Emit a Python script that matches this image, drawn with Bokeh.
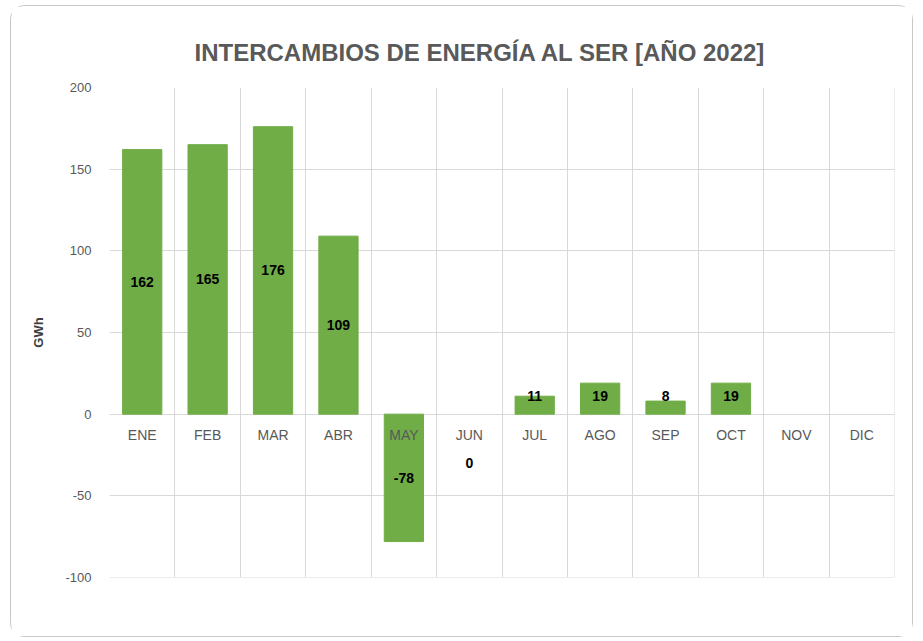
from bokeh.plotting import figure
from bokeh.models import FixedTicker, ColumnDataSource, Title, Span
from bokeh.embed import file_html
from bokeh.resources import INLINE
from bokeh.core.properties import value

months = ["ENE", "FEB", "MAR", "ABR", "MAY", "JUN", "JUL", "AGO", "SEP", "OCT", "NOV", "DIC"]
values = [162, 165, 176, 109, -78, 0, 11, 19, 8, 19, None, None]
y_ticks = [-100, -50, 0, 50, 100, 150, 200]

xs = [i + 0.5 for i in range(len(months))]
bx, bv = [], []
for x, v in zip(xs, values):
    if v:
        bx.append(x)
        bv.append(v)

lab_x, lab_y, lab_t = [], [], []
for x, v in zip(xs, values):
    if v is None:
        continue
    if v == 0:
        y = -30
    elif 0 < v < 25:
        y = 11
    else:
        y = v / 2
    lab_x.append(x)
    lab_y.append(y)
    lab_t.append(str(v))

p = figure(width=903, height=632, output_backend="svg", toolbar_location=None,
           x_range=(0, 12), y_range=(-100, 200),
           min_border_left=98, min_border_right=20, min_border_top=81, min_border_bottom=61)
p.styles = {"border": "1.5px solid #c8c8c8", "border-radius": "14px",
            "margin-left": "10px", "margin-top": "5px"}

p.title = Title(text="INTERCAMBIOS DE ENERGÍA AL SER [AÑO 2022]", align="left",
                text_font="Liberation Sans", text_font_size="24px",
                text_font_style="bold", text_color="#595959", offset=85, standoff=44)

p.vbar(x=bx, top=bv, bottom=0, width=0.6, color="#70AD47")

src = ColumnDataSource(dict(x=lab_x, y=lab_y, t=lab_t))
p.text(x="x", y="y", text="t", source=src, text_align="center", text_baseline="middle",
       text_font=value("Liberation Sans"), text_font_size="14px", text_font_style="bold",
       text_color="#000000")

p.outline_line_color = None

# x axis at zero
p.xaxis.fixed_location = 0
p.xaxis.ticker = FixedTicker(ticks=xs)
p.xaxis.major_label_overrides = {x: m for x, m in zip(xs, months)}
p.xaxis.axis_line_color = None
p.xaxis.major_tick_line_color = None
p.xaxis.minor_tick_line_color = None
p.xaxis.major_label_text_font = "Liberation Sans"
p.xaxis.major_label_text_font_size = "14px"
p.xaxis.major_label_text_color = "#595959"
p.xaxis.major_label_standoff = 7

p.yaxis.ticker = FixedTicker(ticks=y_ticks)
p.yaxis.major_label_overrides = {t: str(t) for t in y_ticks}
p.yaxis.axis_line_color = None
p.yaxis.major_tick_line_color = None
p.yaxis.minor_tick_line_color = None
p.yaxis.major_label_text_font = "Liberation Sans"
p.yaxis.major_label_text_font_size = "13px"
p.yaxis.major_label_text_color = "#595959"
p.yaxis.major_label_standoff = 12
p.yaxis.axis_label = "GWh"
p.yaxis.axis_label_text_font = "Liberation Sans"
p.yaxis.axis_label_text_font_size = "13px"
p.yaxis.axis_label_text_font_style = "bold"
p.yaxis.axis_label_text_color = "#404040"
p.yaxis.axis_label_standoff = 16

p.xgrid.ticker = FixedTicker(ticks=list(range(1, 12)))
p.xgrid.grid_line_color = "#d9d9d9"
p.ygrid.grid_line_color = "#d9d9d9"
p.add_layout(Span(location=-100, dimension="width", line_color="#d9d9d9", line_width=1))
p.add_layout(Span(location=12, dimension="height", line_color="#d9d9d9", line_width=1))

open("out.html", "w").write(file_html(p, INLINE))
